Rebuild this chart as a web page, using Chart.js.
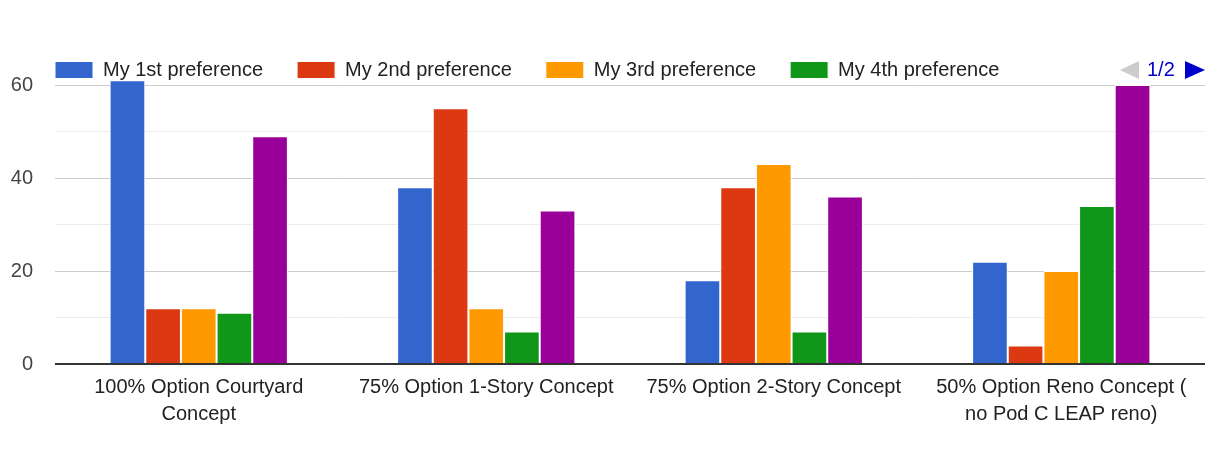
<!DOCTYPE html>
<html>
<head>
<meta charset="utf-8">
<script src="https://cdn.jsdelivr.net/npm/chart.js@4.4.1/dist/chart.umd.min.js"></script>
<style>
  html, body { margin: 0; padding: 0; background: #fff; }
  #wrap { width: 1215px; height: 459px; }
</style>
</head>
<body>
<div id="wrap"><canvas id="prefs"></canvas></div>
<script>
// options and their preference counts
const options = [
  ["100% Option Courtyard", "Concept"],
  "75% Option 1-Story Concept",
  "75% Option 2-Story Concept",
  ["50% Option Reno Concept (", "no Pod C LEAP reno)"]
];
const pref1 = [61, 38, 18, 22];
const pref2 = [12, 55, 38, 4];
const pref3 = [12, 12, 43, 20];
const pref4 = [11, 7, 7, 34];
const pref5 = [49, 33, 36, 60];
const yTicks = [0, 20, 40, 60];

const font = "'Liberation Sans', Arial, sans-serif";

function ds(label, data, color) {
  return {
    label: label,
    data: data,
    backgroundColor: color,
    borderColor: "#ffffff",
    borderWidth: 1,
    borderSkipped: "bottom",
    clip: false
  };
}

// squeeze the legend box so the plot starts right under it,
// and nudge it over so it lines up with the plot's left edge
const legendTweak = {
  id: "legendTweak",
  beforeInit(chart) {
    const lg = chart.legend;
    const fit = lg.fit;
    lg.fit = function () {
      fit.call(this);
      this.height = 59;
    };
    const draw = lg.draw;
    lg.draw = function () {
      this.ctx.save();
      this.ctx.translate(21, 0);
      draw.call(this);
      this.ctx.restore();
    };
  }
};

// the little "◀ 1/2 ▶" legend pager, drawn by hand
const pager = {
  id: "pager",
  afterDraw(chart) {
    const c = chart.ctx;
    const y = 70;
    c.save();
    c.fillStyle = "#cccccc";
    c.beginPath();
    c.moveTo(1120, y); c.lineTo(1139, y - 9); c.lineTo(1139, y + 9); c.closePath();
    c.fill();
    c.fillStyle = "#0000cc";
    c.font = "20px " + font;
    c.textBaseline = "middle";
    c.fillText("1/2", 1147, y);
    c.beginPath();
    c.moveTo(1185, y - 9); c.lineTo(1205, y); c.lineTo(1185, y + 9); c.closePath();
    c.fill();
    c.restore();
  }
};

new Chart("prefs", {
  type: "bar",
  data: {
    labels: options,
    datasets: [
      ds("My 1st preference", pref1, "#3366cc"),
      ds("My 2nd preference", pref2, "#dc3912"),
      ds("My 3rd preference", pref3, "#ff9900"),
      ds("My 4th preference", pref4, "#109618"),
      ds("My 5th preference", pref5, "#990099")
    ]
  },
  options: {
    responsive: true,
    maintainAspectRatio: false,
    animation: false,
    layout: { padding: { top: 26, right: 10, left: 0, bottom: 29 } },
    datasets: { bar: { categoryPercentage: 0.62, barPercentage: 1.0 } },
    plugins: {
      tooltip: { enabled: false },
      legend: {
        align: "start",
        labels: {
          filter: (item) => item.datasetIndex < 4,
          boxWidth: 38,
          boxHeight: 17,
          padding: 34,
          color: "#222",
          font: { family: font, size: 20 }
        }
      }
    },
    scales: {
      x: {
        grid: { display: false },
        border: { display: false },
        ticks: {
          color: "#222",
          padding: 2,
          maxRotation: 0,
          font: { family: font, size: 20, lineHeight: 1.35 }
        }
      },
      y: {
        min: 0,
        max: 60,
        afterFit: (s) => { s.width = 55; },
        border: { display: false },
        grid: {
          drawTicks: false,
          color: (ctx) => {
            const v = ctx.tick.value;
            if (v === 0) return "#333333";
            return yTicks.includes(v) ? "#cccccc" : "#ebebeb";
          },
          lineWidth: (ctx) => ctx.tick.value === 0 ? 2 : 1
        },
        ticks: {
          stepSize: 10,
          padding: 22,
          color: "#444",
          font: { family: font, size: 20 },
          callback: (v) => yTicks.includes(v) ? v : ""
        }
      }
    }
  },
  plugins: [legendTweak, pager]
});
</script>
</body>
</html>
